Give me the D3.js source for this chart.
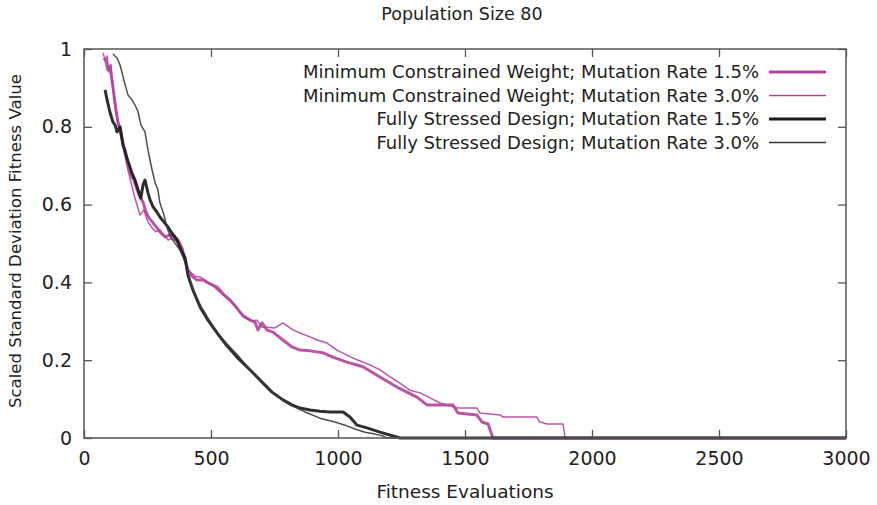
<!DOCTYPE html>
<html>
<head>
<meta charset="utf-8">
<script src="https://cdn.jsdelivr.net/npm/d3@7"></script>
<style>
	body { margin: 0; background: #fff; }
	svg { display: block; }
	.lbl { font-family: "DejaVu Sans", sans-serif; fill: #222; }
	.legend text { font-family: "DejaVu Sans", sans-serif; font-size: 18px; fill: #222; }
</style>
</head>
<body>
<svg id="plot" width="877" height="505"></svg>
<script>
// fitness evaluations (x) and scaled deviation (y) for each run
const MCW_15_X = [79, 87, 94, 102, 110, 118, 126, 134, 142, 154, 161, 173, 185, 197, 209, 220, 232, 244, 256, 272, 287, 303, 319, 339, 354, 370, 386, 398, 409, 425, 445, 469, 496, 524, 551, 575, 602, 626, 654, 673, 685, 701, 720, 744, 783, 819, 850, 890, 941, 980, 1035, 1098, 1165, 1232, 1311, 1350, 1453, 1472, 1547, 1567, 1591, 1610, 3000];
const MCW_15_Y = [0.977, 0.967, 0.946, 0.956, 0.920, 0.882, 0.843, 0.812, 0.792, 0.753, 0.735, 0.702, 0.676, 0.663, 0.638, 0.620, 0.607, 0.581, 0.566, 0.553, 0.540, 0.527, 0.517, 0.522, 0.519, 0.509, 0.488, 0.458, 0.432, 0.416, 0.406, 0.406, 0.396, 0.388, 0.368, 0.355, 0.334, 0.314, 0.303, 0.298, 0.278, 0.296, 0.278, 0.272, 0.252, 0.234, 0.226, 0.224, 0.219, 0.208, 0.195, 0.183, 0.157, 0.131, 0.105, 0.085, 0.085, 0.064, 0.059, 0.041, 0.036, 0, 0];

const MCW_30_X = [75, 83, 91, 98, 106, 114, 122, 130, 138, 150, 161, 173, 185, 197, 209, 220, 236, 252, 268, 283, 299, 315, 331, 346, 366, 386, 402, 417, 437, 457, 480, 508, 535, 563, 591, 614, 638, 661, 681, 701, 720, 752, 783, 823, 850, 890, 917, 957, 996, 1035, 1075, 1126, 1165, 1205, 1244, 1283, 1323, 1362, 1402, 1469, 1547, 1559, 1638, 1650, 1783, 1795, 1823, 1886, 1894, 3000];
const MCW_30_Y = [0.990, 0.972, 0.982, 0.941, 0.961, 0.900, 0.856, 0.817, 0.797, 0.766, 0.728, 0.689, 0.658, 0.625, 0.599, 0.573, 0.586, 0.555, 0.540, 0.530, 0.535, 0.522, 0.509, 0.514, 0.504, 0.478, 0.445, 0.427, 0.416, 0.414, 0.404, 0.391, 0.375, 0.360, 0.342, 0.324, 0.308, 0.301, 0.303, 0.285, 0.285, 0.283, 0.296, 0.278, 0.270, 0.260, 0.252, 0.244, 0.226, 0.213, 0.201, 0.188, 0.175, 0.157, 0.141, 0.123, 0.116, 0.103, 0.090, 0.077, 0.077, 0.064, 0.059, 0.054, 0.054, 0.041, 0.036, 0.036, 0, 0];

const FSD_15_X = [83, 91, 102, 114, 122, 130, 142, 154, 161, 169, 181, 189, 201, 213, 224, 232, 240, 252, 260, 272, 287, 299, 315, 331, 346, 366, 382, 398, 409, 429, 457, 488, 524, 563, 602, 646, 693, 740, 783, 819, 850, 890, 929, 969, 1020, 1047, 1075, 1114, 1165, 1217, 1244, 3000];
const FSD_15_Y = [0.895, 0.869, 0.838, 0.812, 0.805, 0.787, 0.800, 0.753, 0.740, 0.720, 0.697, 0.681, 0.663, 0.638, 0.617, 0.650, 0.663, 0.630, 0.612, 0.594, 0.581, 0.568, 0.555, 0.542, 0.527, 0.509, 0.483, 0.463, 0.419, 0.380, 0.337, 0.303, 0.270, 0.237, 0.208, 0.180, 0.149, 0.118, 0.098, 0.085, 0.077, 0.072, 0.069, 0.067, 0.067, 0.054, 0.033, 0.026, 0.015, 0.005, 0, 0];

const FSD_30_X = [114, 130, 142, 157, 173, 189, 201, 213, 224, 240, 252, 268, 280, 291, 299, 315, 327, 343, 358, 378, 398, 417, 437, 457, 488, 524, 567, 614, 661, 701, 752, 811, 870, 929, 988, 1028, 1067, 1106, 1146, 1177, 1193, 3000];
const FSD_30_Y = [0.987, 0.977, 0.959, 0.920, 0.882, 0.869, 0.856, 0.838, 0.805, 0.787, 0.740, 0.689, 0.656, 0.638, 0.604, 0.573, 0.540, 0.514, 0.501, 0.483, 0.452, 0.406, 0.368, 0.342, 0.308, 0.270, 0.239, 0.206, 0.170, 0.141, 0.111, 0.085, 0.067, 0.051, 0.041, 0.033, 0.023, 0.015, 0.010, 0.005, 0, 0];

const SERIES_NAMES = [
	'Minimum Constrained Weight; Mutation Rate 1.5%',
	'Minimum Constrained Weight; Mutation Rate 3.0%',
	'Fully Stressed Design; Mutation Rate 1.5%',
	'Fully Stressed Design; Mutation Rate 3.0%'
];
const X_TICKS = [0, 500, 1000, 1500, 2000, 2500, 3000];
const Y_TICKS = [0, 0.2, 0.4, 0.6, 0.8, 1];

const MAGENTA = '#b2449e';
const STYLES = [
	{ color: MAGENTA, width: 3 },
	{ color: MAGENTA, width: 1.5 },
	{ color: '#1a1a1a', width: 3 },
	{ color: '#3a3a3a', width: 1.5 }
];

const BOX = { left: 84, right: 846, top: 49, bottom: 438 };

function zip(xs, ys) {
	return xs.map((x, i) => ({ x: x, y: ys[i] }));
}

const series = [
	zip(MCW_15_X, MCW_15_Y),
	zip(MCW_30_X, MCW_30_Y),
	zip(FSD_15_X, FSD_15_Y),
	zip(FSD_30_X, FSD_30_Y)
];

const svg = d3.select('#plot');

const scale_x = d3.scaleLinear().domain([0, 3000]).range([BOX.left, BOX.right]);
const scale_y = d3.scaleLinear().domain([0, 1]).range([BOX.bottom, BOX.top]);

/* curves */
const line = d3.line().x(d => scale_x(d.x)).y(d => scale_y(d.y));
svg.append('g').selectAll('path')
	.data(series)
	.enter().append('path')
		.attr('d', line)
		.attr('fill', 'none')
		.attr('stroke', (d, i) => STYLES[i].color)
		.attr('stroke-width', (d, i) => STYLES[i].width)
		.attr('stroke-opacity', 0.9)
		.attr('stroke-linejoin', 'round');

/* frame with inward ticks on all four sides */
const TICK = 8;
const axisStyle = g => {
	g.select('.domain').remove();
	g.selectAll('.tick line').attr('stroke', '#555').attr('stroke-width', 1.3);
	g.selectAll('.tick text').attr('class', 'lbl').style('font-size', '19px').attr('fill', '#222');
};

svg.append('g')
	.attr('transform', `translate(0,${BOX.bottom})`)
	.call(d3.axisBottom(scale_x).tickValues(X_TICKS).tickSize(-TICK).tickPadding(14).tickFormat(d3.format('d')))
	.call(axisStyle);
svg.append('g')
	.attr('transform', `translate(0,${BOX.top})`)
	.call(d3.axisTop(scale_x).tickValues(X_TICKS).tickSize(-TICK).tickFormat(''))
	.call(axisStyle);
svg.append('g')
	.attr('transform', `translate(${BOX.left},0)`)
	.call(d3.axisLeft(scale_y).tickValues(Y_TICKS).tickSize(-TICK).tickPadding(12).tickFormat(d => d3.format('')(+d.toFixed(1))))
	.call(axisStyle);
svg.append('g')
	.attr('transform', `translate(${BOX.right},0)`)
	.call(d3.axisRight(scale_y).tickValues(Y_TICKS).tickSize(-TICK).tickFormat(''))
	.call(axisStyle);

svg.append('rect')
	.attr('x', BOX.left)
	.attr('y', BOX.top)
	.attr('width', BOX.right - BOX.left)
	.attr('height', BOX.bottom - BOX.top)
	.attr('fill', 'none')
	.attr('stroke', '#555')
	.attr('stroke-width', 1.5);

/* legend */
const legend = svg.append('g').attr('class', 'legend');
const rows = legend.selectAll('g')
	.data(SERIES_NAMES)
	.enter().append('g')
		.attr('transform', (d, i) => `translate(0,${72 + i * 23.5})`);
rows.append('text')
	.attr('x', 759)
	.attr('dy', '0.35em')
	.attr('text-anchor', 'end')
	.text(d => d);
rows.append('line')
	.attr('x1', 769)
	.attr('x2', 826)
	.attr('stroke', (d, i) => STYLES[i].color)
	.attr('stroke-width', (d, i) => STYLES[i].width);

/* titles */
svg.append('text')
	.attr('class', 'lbl')
	.attr('x', 462)
	.attr('y', 20)
	.attr('text-anchor', 'middle')
	.style('font-size', '17.5px')
	.text('Population Size 80');
svg.append('text')
	.attr('class', 'lbl')
	.attr('x', 465)
	.attr('y', 498)
	.attr('text-anchor', 'middle')
	.style('font-size', '18.5px')
	.text('Fitness Evaluations');
svg.append('text')
	.attr('class', 'lbl')
	.attr('transform', 'translate(21,241) rotate(-90)')
	.attr('text-anchor', 'middle')
	.style('font-size', '16.6px')
	.text('Scaled Standard Deviation Fitness Value');
</script>
</body>
</html>
